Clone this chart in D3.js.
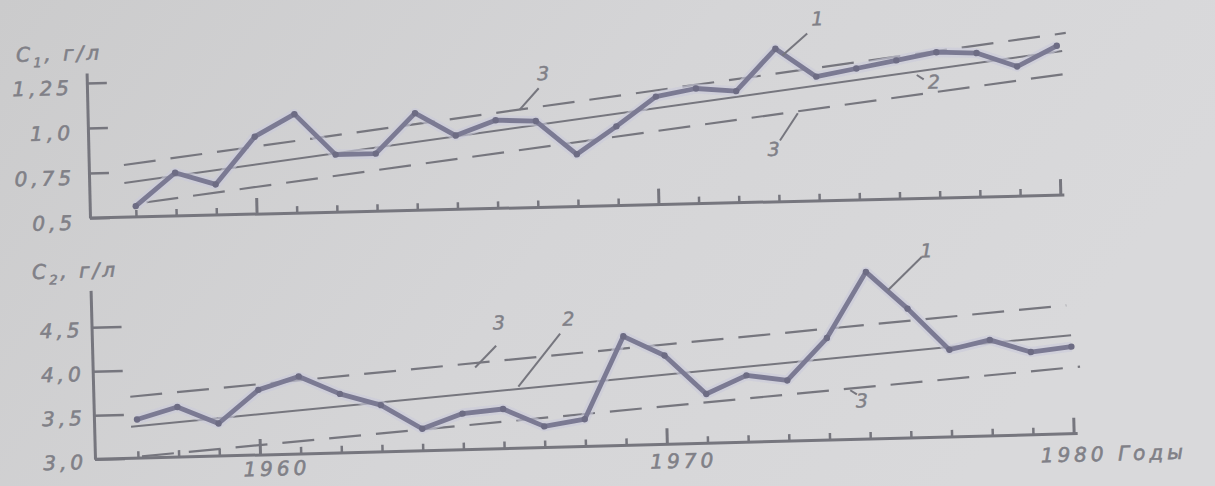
<!DOCTYPE html>
<html><head><meta charset="utf-8">
<script src="https://cdn.jsdelivr.net/npm/d3@7"></script>
<style>html,body{margin:0;padding:0;background:#d3d3d5;} svg{display:block}</style>
</head><body>
<svg id="chart" width="1215" height="486"></svg>
<script>
// ---------- data ----------
const years = [1957,1958,1959,1960,1961,1962,1963,1964,1965,1966,1967,1968,
               1969,1970,1971,1972,1973,1974,1975,1976,1977,1978,1979,1980];
const c1Values = [0.56,0.74,0.67,0.93,1.05,0.82,0.82,1.04,0.91,0.99,0.98,0.79,
                  0.94,1.10,1.14,1.12,1.35,1.19,1.23,1.27,1.31,1.30,1.22,1.33];
const c2Values = [3.44,3.57,3.37,3.74,3.88,3.67,3.53,3.25,3.41,3.45,3.24,3.31,
                  4.24,4.01,3.56,3.76,3.69,4.16,4.90,4.47,3.99,4.09,3.94,3.99];
const c1Ticks = [0.5, 0.75, 1.0, 1.25];
const c1TickLabels = ["0,5", "0,75", "1,0", "1,25"];
const c2Ticks = [3.0, 3.5, 4.0, 4.5];
const c2TickLabels = ["3,0", "3,5", "4,0", "4,5"];
const majorYears = [1960, 1970, 1980];
const xTickLabels = ["1960", "1970", "1980"];
const xUnit = "Годы";
const c1Title = ["C", "1", ", г/л"];
const c2Title = ["C", "2", ", г/л"];
// trend line (2) and confidence band (3)
const c1Trend = [[1956.73, 0.69], [1980.13, 1.30]];
const c1Upper = [[1956.73, 0.79], [1980.23, 1.40]];
const c1Lower = [[1957.27, 0.58], [1980.48, 1.18]];
const c2Trend = [[1956.85, 3.36], [1980.0, 4.12]];
const c2Upper = [[1956.85, 3.70], [1979.9, 4.46]];
const c2Lower = [[1957.1, 3.02], [1980.2, 3.76]];
// curve number callouts (in data coordinates)
const c1Notes = [
  {text: "1", at: [1974.06, 1.514], leader: [[1973.8, 1.431], [1973.17, 1.312]]},
  {text: "3", at: [1967.21, 1.245], leader: [[1967.09, 1.162], [1966.6, 1.044]]},
  {text: "3", at: [1972.9, 0.794], leader: [[1973.52, 0.989], [1973.06, 0.840]]},
  {text: "2", at: [1976.92, 1.147], leader: [[1976.5, 1.186], [1976.67, 1.161]]}
];
const c2Notes = [
  {text: "3", at: [1965.95, 4.435], leader: [[1965.87, 4.17], [1965.34, 3.93]]},
  {text: "2", at: [1967.66, 4.458], leader: [[1967.45, 4.29], [1966.39, 3.70]]},
  {text: "1", at: [1976.5, 5.127], leader: [[1976.38, 5.053], [1975.53, 4.684]]},
  {text: "3", at: [1974.82, 3.443], leader: [[1974.54, 3.56], [1974.7, 3.51]]}
];

// ---------- styles ----------
const INK = "#76767e";
const LINE = "#7b7a93";
const TEXT = "#808087";
const FONT = "'DejaVu Sans', sans-serif";

const svg = d3.select("#chart");
const defs = svg.append("defs");
const grad = defs.append("linearGradient").attr("id", "bg").attr("x1", 0).attr("x2", 1).attr("y1", 0).attr("y2", 0.3);
grad.append("stop").attr("offset", "0%").attr("stop-color", "#cbcbcc");
grad.append("stop").attr("offset", "55%").attr("stop-color", "#d5d5d7");
grad.append("stop").attr("offset", "100%").attr("stop-color", "#d9d9db");
svg.append("rect").attr("width", 1215).attr("height", 486).attr("fill", "url(#bg)");

function styleText(sel) {
  sel.attr("fill", TEXT).attr("font-family", FONT).attr("font-size", 20)
    .attr("font-style", "italic").attr("letter-spacing", 4)
    .attr("stroke", TEXT).attr("stroke-width", 0.6);
}

const panels = [
  {ox: 90, oy: 218, angle: -1.35, x0: 46, x1: 970.6, yDomain: [0.5, 1.5], yRange: [0, -180],
   yTop: -145, yTickLen: 20, values: c1Values, ticks: c1Ticks, tickLabels: c1TickLabels,
   labelDy: "0.55em", labelPad: 14, title: c1Title, titlePos: [-70, -158],
   trend: c1Trend, upper: c1Upper, lower: c1Lower, notes: c1Notes, xLabels: false},
  {ox: 95, oy: 459.3, angle: -1.5, x0: 43, x1: 979, yDomain: [3, 5], yRange: [0, -176],
   yTop: -169, yTickLen: 30, values: c2Values, ticks: c2Ticks, tickLabels: c2TickLabels,
   labelDy: "0.45em", labelPad: 8, title: c2Title, titlePos: [-58, -182],
   trend: c2Trend, upper: c2Upper, lower: c2Lower, notes: c2Notes, xLabels: true}
];

panels.forEach(p => {
  const g = svg.append("g").attr("transform", `translate(${p.ox},${p.oy}) rotate(${p.angle})`);
  const x = d3.scaleLinear().domain([1957, 1980]).range([p.x0, p.x1]);
  const y = d3.scaleLinear().domain(p.yDomain).range(p.yRange);

  // y axis
  const yAxisScale = y.copy().domain([p.yDomain[0], y.invert(p.yTop)]).range([0, p.yTop]);
  const yAx = g.append("g").call(
    d3.axisLeft(yAxisScale).tickValues(p.ticks)
      .tickFormat((d, i) => p.tickLabels[i])
      .tickSizeInner(-p.yTickLen).tickSizeOuter(0).tickPadding(p.labelPad));
  yAx.select(".domain").attr("stroke", INK).attr("stroke-width", 3);
  yAx.selectAll(".tick line").attr("stroke", INK).attr("stroke-width", 2.5);
  yAx.selectAll(".tick text").call(styleText).attr("dy", p.labelDy);

  // x axis line
  g.append("line").attr("x1", 0).attr("x2", x(1980) + 4).attr("y1", 0).attr("y2", 0)
    .attr("stroke", INK).attr("stroke-width", 3);
  // minor ticks
  const minorAx = g.append("g").call(
    d3.axisBottom(x).tickValues(years.filter(v => !majorYears.includes(v)))
      .tickFormat("").tickSizeInner(-7).tickSizeOuter(0));
  minorAx.select(".domain").remove();
  minorAx.selectAll(".tick line").attr("stroke", INK).attr("stroke-width", 2.5);
  // major ticks
  const majorAx = g.append("g").call(
    d3.axisBottom(x).tickValues(majorYears)
      .tickFormat((d, i) => p.xLabels ? xTickLabels[i] : "")
      .tickSizeInner(-16).tickSizeOuter(0).tickPadding(18));
  majorAx.select(".domain").remove();
  majorAx.selectAll(".tick line").attr("stroke", INK).attr("stroke-width", 3);
  majorAx.selectAll(".tick text").call(styleText).attr("dx", 16).attr("dy", "0.3em");
  if (p.xLabels) {
    majorAx.selectAll(".tick text").filter(d => d === 1960).attr("dy", "0.15em");
    const last = majorAx.selectAll(".tick text").filter(d => d === 1980);
    last.attr("text-anchor", "start").attr("dx", -34).attr("dy", "0.5em")
      .text(xTickLabels[2] + " " + xUnit);
  }

  // title
  const t = g.append("text").attr("x", p.titlePos[0]).attr("y", p.titlePos[1])
    .call(styleText).attr("letter-spacing", 3);
  t.append("tspan").text(p.title[0]);
  t.append("tspan").attr("font-size", 13).attr("dy", 6).text(p.title[1]);
  t.append("tspan").attr("dy", -6).text(p.title[2]);

  // trend and band lines
  const seg = d3.line().x(d => x(d[0])).y(d => y(d[1]));
  g.append("path").attr("d", seg(p.trend)).attr("fill", "none")
    .attr("stroke", INK).attr("stroke-width", 2);
  [p.upper, p.lower].forEach(b => {
    g.append("path").attr("d", seg(b)).attr("fill", "none")
      .attr("stroke", INK).attr("stroke-width", 2.2).attr("stroke-dasharray", "32,15");
  });

  // data series
  const pts = years.map((yr, i) => [yr, p.values[i]]);
  g.append("path").attr("d", seg(pts)).attr("fill", "none")
    .attr("stroke", "#c9c9da").attr("stroke-width", 10).attr("stroke-linejoin", "round").attr("opacity", 0.6);
  g.append("path").attr("d", seg(pts)).attr("fill", "none")
    .attr("stroke", LINE).attr("stroke-width", 4.8).attr("stroke-linejoin", "round");
  g.selectAll("circle.pt").data(pts).join("circle").attr("class", "pt")
    .attr("cx", d => x(d[0])).attr("cy", d => y(d[1])).attr("r", 3.2).attr("fill", "#6d6c84");

  // callouts
  p.notes.forEach(n => {
    g.append("path").attr("d", seg(n.leader)).attr("fill", "none")
      .attr("stroke", INK).attr("stroke-width", 2);
    g.append("text").attr("x", x(n.at[0])).attr("y", y(n.at[1]))
      .attr("text-anchor", "middle").attr("dominant-baseline", "central")
      .attr("fill", TEXT).attr("font-family", FONT).attr("font-size", 19)
      .attr("font-style", "italic").attr("stroke", TEXT).attr("stroke-width", 0.5)
      .text(n.text);
  });
});
</script>
</body></html>
